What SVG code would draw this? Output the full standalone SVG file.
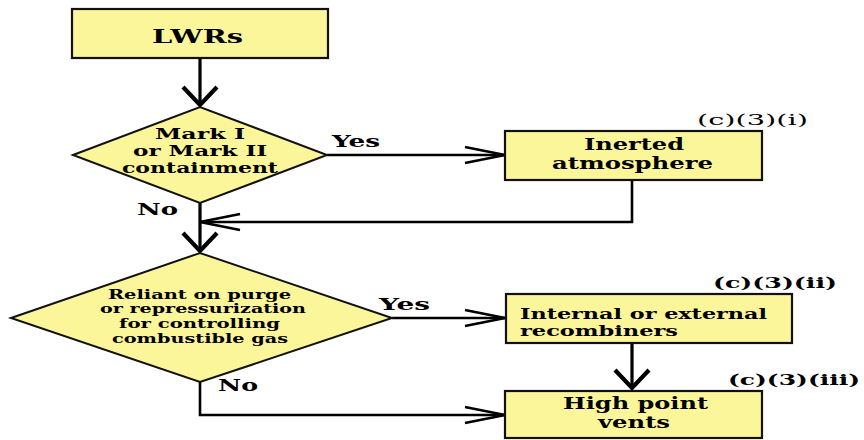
<svg xmlns="http://www.w3.org/2000/svg" width="864" height="440" viewBox="0 0 864 440">
<defs>
<style>
.box{fill:#FCF69B;stroke:#111;stroke-width:2.2}
.dia{fill:#FCF69B;stroke:#111;stroke-width:2}
.t{font-family:"DejaVu Serif","Liberation Serif",serif;font-weight:bold;fill:#000}
.r{font-family:"DejaVu Serif","Liberation Serif",serif;font-weight:normal;fill:#000}
.ln{fill:none;stroke:#000;stroke-width:2.6}
.lnb{fill:none;stroke:#000;stroke-width:3.2}
</style>
<marker id="side" markerUnits="userSpaceOnUse" viewBox="-44 -12 48 24" refX="0" refY="0" markerWidth="48" markerHeight="24" orient="auto" overflow="visible">
<path d="M-40,-8 L0,0 L-40,8" fill="none" stroke="#000" stroke-width="2.6"/>
</marker>
<marker id="down" markerUnits="userSpaceOnUse" viewBox="-26 -22 30 44" refX="0" refY="0" markerWidth="30" markerHeight="44" orient="auto" overflow="visible">
<path d="M-19,-17 L-1,0 L-19,17" fill="none" stroke="#000" stroke-width="4.2"/>
</marker>
</defs>
<rect width="864" height="440" fill="#fff"/>
<g id="connectors">
<line class="lnb" x1="200" y1="58" x2="200" y2="106" marker-end="url(#down)"/>
<line class="ln" x1="327" y1="155" x2="505" y2="155" marker-end="url(#side)"/>
<polyline class="ln" points="632,180 632,222 200,222" marker-end="url(#side)"/>
<line class="lnb" x1="200" y1="203" x2="200" y2="252" marker-end="url(#down)"/>
<line class="ln" x1="392" y1="318" x2="505" y2="318" marker-end="url(#side)"/>
<line class="lnb" x1="632" y1="343" x2="632" y2="389" marker-end="url(#down)"/>
<polyline class="ln" points="200,382 200,415 505,415" marker-end="url(#side)"/>
<text class="t" x="332" y="147" font-size="16" textLength="48" lengthAdjust="spacingAndGlyphs">Yes</text>
<text class="t" x="137" y="215" font-size="16" textLength="41" lengthAdjust="spacingAndGlyphs">No</text>
<text class="t" x="379" y="310" font-size="16" textLength="51" lengthAdjust="spacingAndGlyphs">Yes</text>
<text class="t" x="218" y="391" font-size="16" textLength="40" lengthAdjust="spacingAndGlyphs">No</text>
</g>
<g id="lwrs">
<rect class="box" x="72" y="9" width="256" height="49"/>
<text class="t" x="152" y="43" font-size="19" textLength="91" lengthAdjust="spacingAndGlyphs">LWRs</text>
</g>
<g id="mark">
<polygon class="dia" points="73,155 200,107 327,155 200,203"/>
<text class="t" x="155" y="139" font-size="14.5" textLength="90" lengthAdjust="spacingAndGlyphs">Mark I</text>
<text class="t" x="133" y="156" font-size="14.5" textLength="134" lengthAdjust="spacingAndGlyphs">or Mark II</text>
<text class="t" x="122" y="173" font-size="14.5" textLength="156" lengthAdjust="spacingAndGlyphs">containment</text>
</g>
<g id="inerted">
<rect class="box" x="505" y="131" width="257" height="49"/>
<text class="t" x="584" y="150" font-size="16" textLength="100" lengthAdjust="spacingAndGlyphs">Inerted</text>
<text class="t" x="552" y="169" font-size="16" textLength="161" lengthAdjust="spacingAndGlyphs">atmosphere</text>
<text class="r" x="697" y="125" font-size="15" textLength="111" lengthAdjust="spacingAndGlyphs">(c)(3)(i)</text>
</g>
<g id="reliant">
<polygon class="dia" points="11,318 200,253 392,318 200,382"/>
<text class="t" x="108" y="299" font-size="13" textLength="183" lengthAdjust="spacingAndGlyphs">Reliant on purge</text>
<text class="t" x="100" y="313" font-size="13" textLength="206" lengthAdjust="spacingAndGlyphs">or repressurization</text>
<text class="t" x="119" y="328" font-size="13" textLength="161" lengthAdjust="spacingAndGlyphs">for controlling</text>
<text class="t" x="112" y="343" font-size="13" textLength="176" lengthAdjust="spacingAndGlyphs">combustible gas</text>
</g>
<g id="recombiners">
<rect class="box" x="506" y="294" width="286" height="49"/>
<text class="t" x="520" y="319" font-size="15" textLength="247" lengthAdjust="spacingAndGlyphs">Internal or external</text>
<text class="t" x="520" y="336" font-size="15" textLength="158" lengthAdjust="spacingAndGlyphs">recombiners</text>
<text class="t" x="713" y="288" font-size="15" textLength="124" lengthAdjust="spacingAndGlyphs">(c)(3)(ii)</text>
</g>
<g id="vents">
<rect class="box" x="505" y="391" width="257" height="47"/>
<text class="t" x="563" y="409" font-size="17" textLength="145" lengthAdjust="spacingAndGlyphs">High point</text>
<text class="t" x="598" y="428" font-size="17" textLength="72" lengthAdjust="spacingAndGlyphs">vents</text>
<text class="t" x="728" y="385" font-size="15" textLength="132" lengthAdjust="spacingAndGlyphs">(c)(3)(iii)</text>
</g>
</svg>
